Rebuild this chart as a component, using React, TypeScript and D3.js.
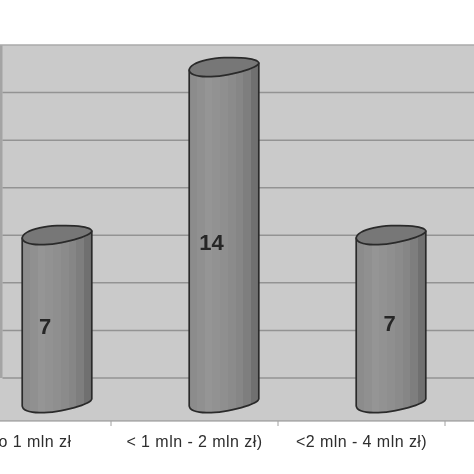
import React from "react";
import * as d3 from "d3";

const categories = ["(do 1 mln zł", "< 1 mln - 2 mln zł)", "<2 mln - 4 mln zł)", ""];
const values = [7, 14, 7];
const wallTicks = [0, 2, 4, 6, 8, 10, 12, 14];
const stripeColors = ["#8c8c8c", "#909090", "#959595", "#929292", "#8f8f8f", "#8b8b8b", "#868686", "#7e7e7e", "#707070"];

export default function App() {
  const W = 474;
  const x = d3.scaleBand<string>().domain(categories).range([-56, 612]).paddingInner(0).paddingOuter(0);
  const wallY = d3.scaleLinear().domain([0, 14]).range([378, 45]);
  const barY = d3.scaleLinear().domain([0, 14]).range([402.5, 66.5]);
  const axisY = 421;
  const depthX = 29.5;
  const a = 34.8, b = 8.8, skew = -3.5;

  const capPoint = (cx: number, cy: number, t: number): [number, number] => [
    cx + a * Math.cos(t),
    cy + b * Math.sin(t) + skew * Math.cos(t) - 0.9 * Math.sin(2 * t),
  ];
  const angles = d3.range(0, 24).map((i) => (i / 24) * 2 * Math.PI);
  const closed = d3.line().curve(d3.curveCatmullRomClosed);
  const lowerAngles = d3.range(0, 13).map((i) => (i / 12) * Math.PI);
  const valueNudge = [[-12, 8], [-12.5, 8], [-1.5, 5]];

  return (
    <svg width={W} height={W} viewBox={`0 0 ${W} ${W}`}
      style={{ position: "absolute", left: 0, top: 0, display: "block", background: "#fff" }}
      fontFamily="'Liberation Sans', Arial, sans-serif">
      <defs>
        <linearGradient id="cyl" x1="0" x2="1" y1="0" y2="0">
          {stripeColors.map((c, i) => (
            <React.Fragment key={i}>
              <stop offset={i / stripeColors.length} stopColor={c} />
              <stop offset={(i + 1) / stripeColors.length} stopColor={c} />
            </React.Fragment>
          ))}
        </linearGradient>
        <filter id="soft" x="-5%" y="-5%" width="110%" height="110%">
          <feGaussianBlur stdDeviation="0.45" />
        </filter>
      </defs>
      <g filter="url(#soft)">
        <rect x={0} y={wallY(14)} width={W} height={axisY - wallY(14)} fill="#cacaca" />
        <rect x={0} y={wallY(14)} width={2.5} height={wallY(0) - wallY(14)} fill="#a4a4a4" />
        {wallTicks.map((t) => (
          <line key={t} x1={t === 14 ? 0 : 2.5} x2={W} y1={wallY(t)} y2={wallY(t)}
            stroke={t === 14 ? "#aaaaaa" : "#939393"} strokeWidth={1.5} />
        ))}
        <line x1={0} x2={W} y1={axisY} y2={axisY} stroke="#8c8c8c" strokeWidth={1.2} />
        {categories.slice(0, 3).map((c) => {
          const tx = (x(c) ?? 0) + x.bandwidth();
          return <line key={c} x1={tx} x2={tx} y1={axisY} y2={axisY + 5} stroke="#a0a0a0" strokeWidth={1} />;
        })}
        {values.map((v, i) => {
          const cat = categories[i];
          const cx = (x(cat) ?? 0) + x.bandwidth() / 2 + depthX;
          const topY = barY(v);
          const botY = barY(0);
          const lower = lowerAngles.map((t) => capPoint(cx, botY, t));
          const left = capPoint(cx, topY, Math.PI);
          const right = capPoint(cx, topY, 0);
          const lowerPath = d3.line().curve(d3.curveCatmullRom)(lower) ?? "";
          const bodyPath = `${lowerPath}L${left[0]},${left[1]}L${right[0]},${right[1]}Z`;
          return (
            <g key={i}>
              <path d={bodyPath} fill="url(#cyl)" stroke="#2b2b2b" strokeWidth={1.7} strokeLinejoin="round" />
              <path d={closed(angles.map((t) => capPoint(cx, topY, t))) ?? ""} fill="#777777" stroke="#2b2b2b" strokeWidth={1.7} />
              <text x={cx + valueNudge[i][0]} y={(topY + botY) / 2 + valueNudge[i][1]} dy="0.36em"
                textAnchor="middle" fontSize={22} fontWeight="bold" fill="#262626">{v}</text>
            </g>
          );
        })}
        {categories.slice(0, 3).map((c) => (
          <text key={c} x={(x(c) ?? 0) + x.bandwidth() / 2} y={447} textAnchor="middle"
            fontSize={16} letterSpacing={0.45} fill="#2e2e2e">{c}</text>
        ))}
      </g>
    </svg>
  );
}
